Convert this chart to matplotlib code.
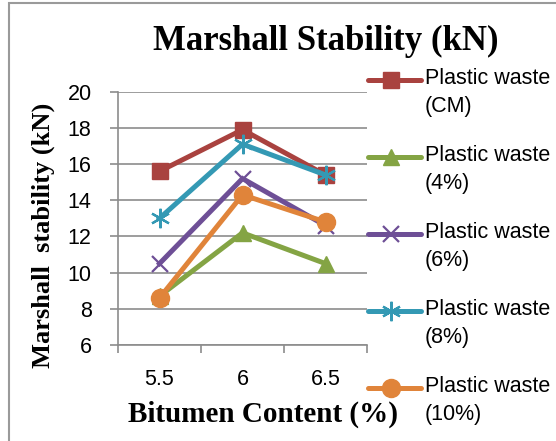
import matplotlib
matplotlib.use("Agg")
import matplotlib.pyplot as plt
from matplotlib.lines import Line2D
from matplotlib.patches import Rectangle

# categories on the x axis (bitumen content, %)
bitumen = ["5.5", "6", "6.5"]

# Marshall stability (kN) per plastic waste dosage
cm = [15.6, 17.9, 15.4]
pw4 = [8.7, 12.2, 10.5]
pw6 = [10.5, 15.2, 12.6]
pw8 = [13.0, 17.1, 15.4]
pw10 = [8.6, 14.3, 12.8]

labels = ["Plastic waste\n(CM)", "Plastic waste\n(4%)", "Plastic waste\n(6%)",
          "Plastic waste\n(8%)", "Plastic waste\n(10%)"]

serif = ["Liberation Serif", "DejaVu Serif"]
sans = ["Liberation Sans", "DejaVu Sans"]

W, H = 556, 441
fig = plt.figure(figsize=(W / 100, H / 100), dpi=100)
ax = fig.add_axes([118 / W, 1 - 345 / H, 249 / W, 253.3 / H])

x = list(range(len(bitumen)))
series = [
    (cm, "#A9423F", "s", 12, 1),
    (pw4, "#84A444", "^", 12, 1),
    (pw6, "#6E4F96", "x", 12, 1.6),
    (pw8, "#3499B4", (6, 2, 0), 14, 1.6),
    (pw10, "#E0843A", "o", 13, 1),
]
for vals, col, mk, ms, mew in series:
    ax.plot(x, vals, color=col, lw=3.6, marker=mk, ms=ms,
            markeredgewidth=mew, markeredgecolor=col, markerfacecolor=col,
            solid_joinstyle="miter")

ax.set_xlim(-0.5, 2.5)
ax.set_ylim(6, 20)
ax.set_yticks(range(6, 21, 2))
ax.set_xticks(x)
ax.set_xticklabels(bitumen)
ax.set_xticks([-0.5, 0.5, 1.5, 2.5], minor=True)
ax.tick_params(axis="x", which="major", length=0, pad=17)
ax.tick_params(axis="x", which="minor", length=6, color="#8c8c8c", width=1.2)
ax.tick_params(axis="y", length=6, color="#8c8c8c", width=1.2, pad=13)
for t in ax.get_xticklabels() + ax.get_yticklabels():
    t.set_family(sans)
    t.set_fontsize(15.5)
ax.grid(axis="y", color="#8c8c8c", lw=1.2)
ax.set_axisbelow(True)
for s in ("top", "right"):
    ax.spines[s].set_visible(False)
for s in ("left", "bottom"):
    ax.spines[s].set_color("#8c8c8c")
    ax.spines[s].set_linewidth(1.2)

fig.text(326 / W, 1 - 41 / H, "Marshall Stability (kN)", family=serif,
         weight="bold", fontsize=25, ha="center", va="center")
fig.text(263 / W, 1 - 414 / H, "Bitumen Content (%)", family=serif,
         weight="bold", fontsize=21, ha="center", va="center")
fig.text(43 / W, 1 - 235 / H, "Marshall  stability (kN)", family=serif,
         weight="bold", fontsize=19, ha="center", va="center", rotation=90)

# legend drawn by hand: handle aligned with the first text line
for i, ((vals, col, mk, ms, mew), lab) in enumerate(zip(series, labels)):
    y = 1 - (80 + i * 77) / H
    fig.add_artist(Line2D([368 / W, 421 / W], [y, y], transform=fig.transFigure,
                          color=col, lw=3.6, solid_capstyle="round"))
    fig.add_artist(Line2D([391 / W], [y], transform=fig.transFigure,
                          marker=mk, ms=ms, color=col, markeredgewidth=mew))
    fig.text(425 / W, y + 12 / H, lab, family=sans, fontsize=15.5,
             ha="left", va="top", linespacing=1.45)

fig.patches.append(Rectangle((9 / W, -0.1), 1.2, 1 - 3 / H + 0.1,
                             transform=fig.transFigure, fill=False,
                             edgecolor="#9a9a9a", lw=1.5))

fig.savefig("out.png", dpi=100)
